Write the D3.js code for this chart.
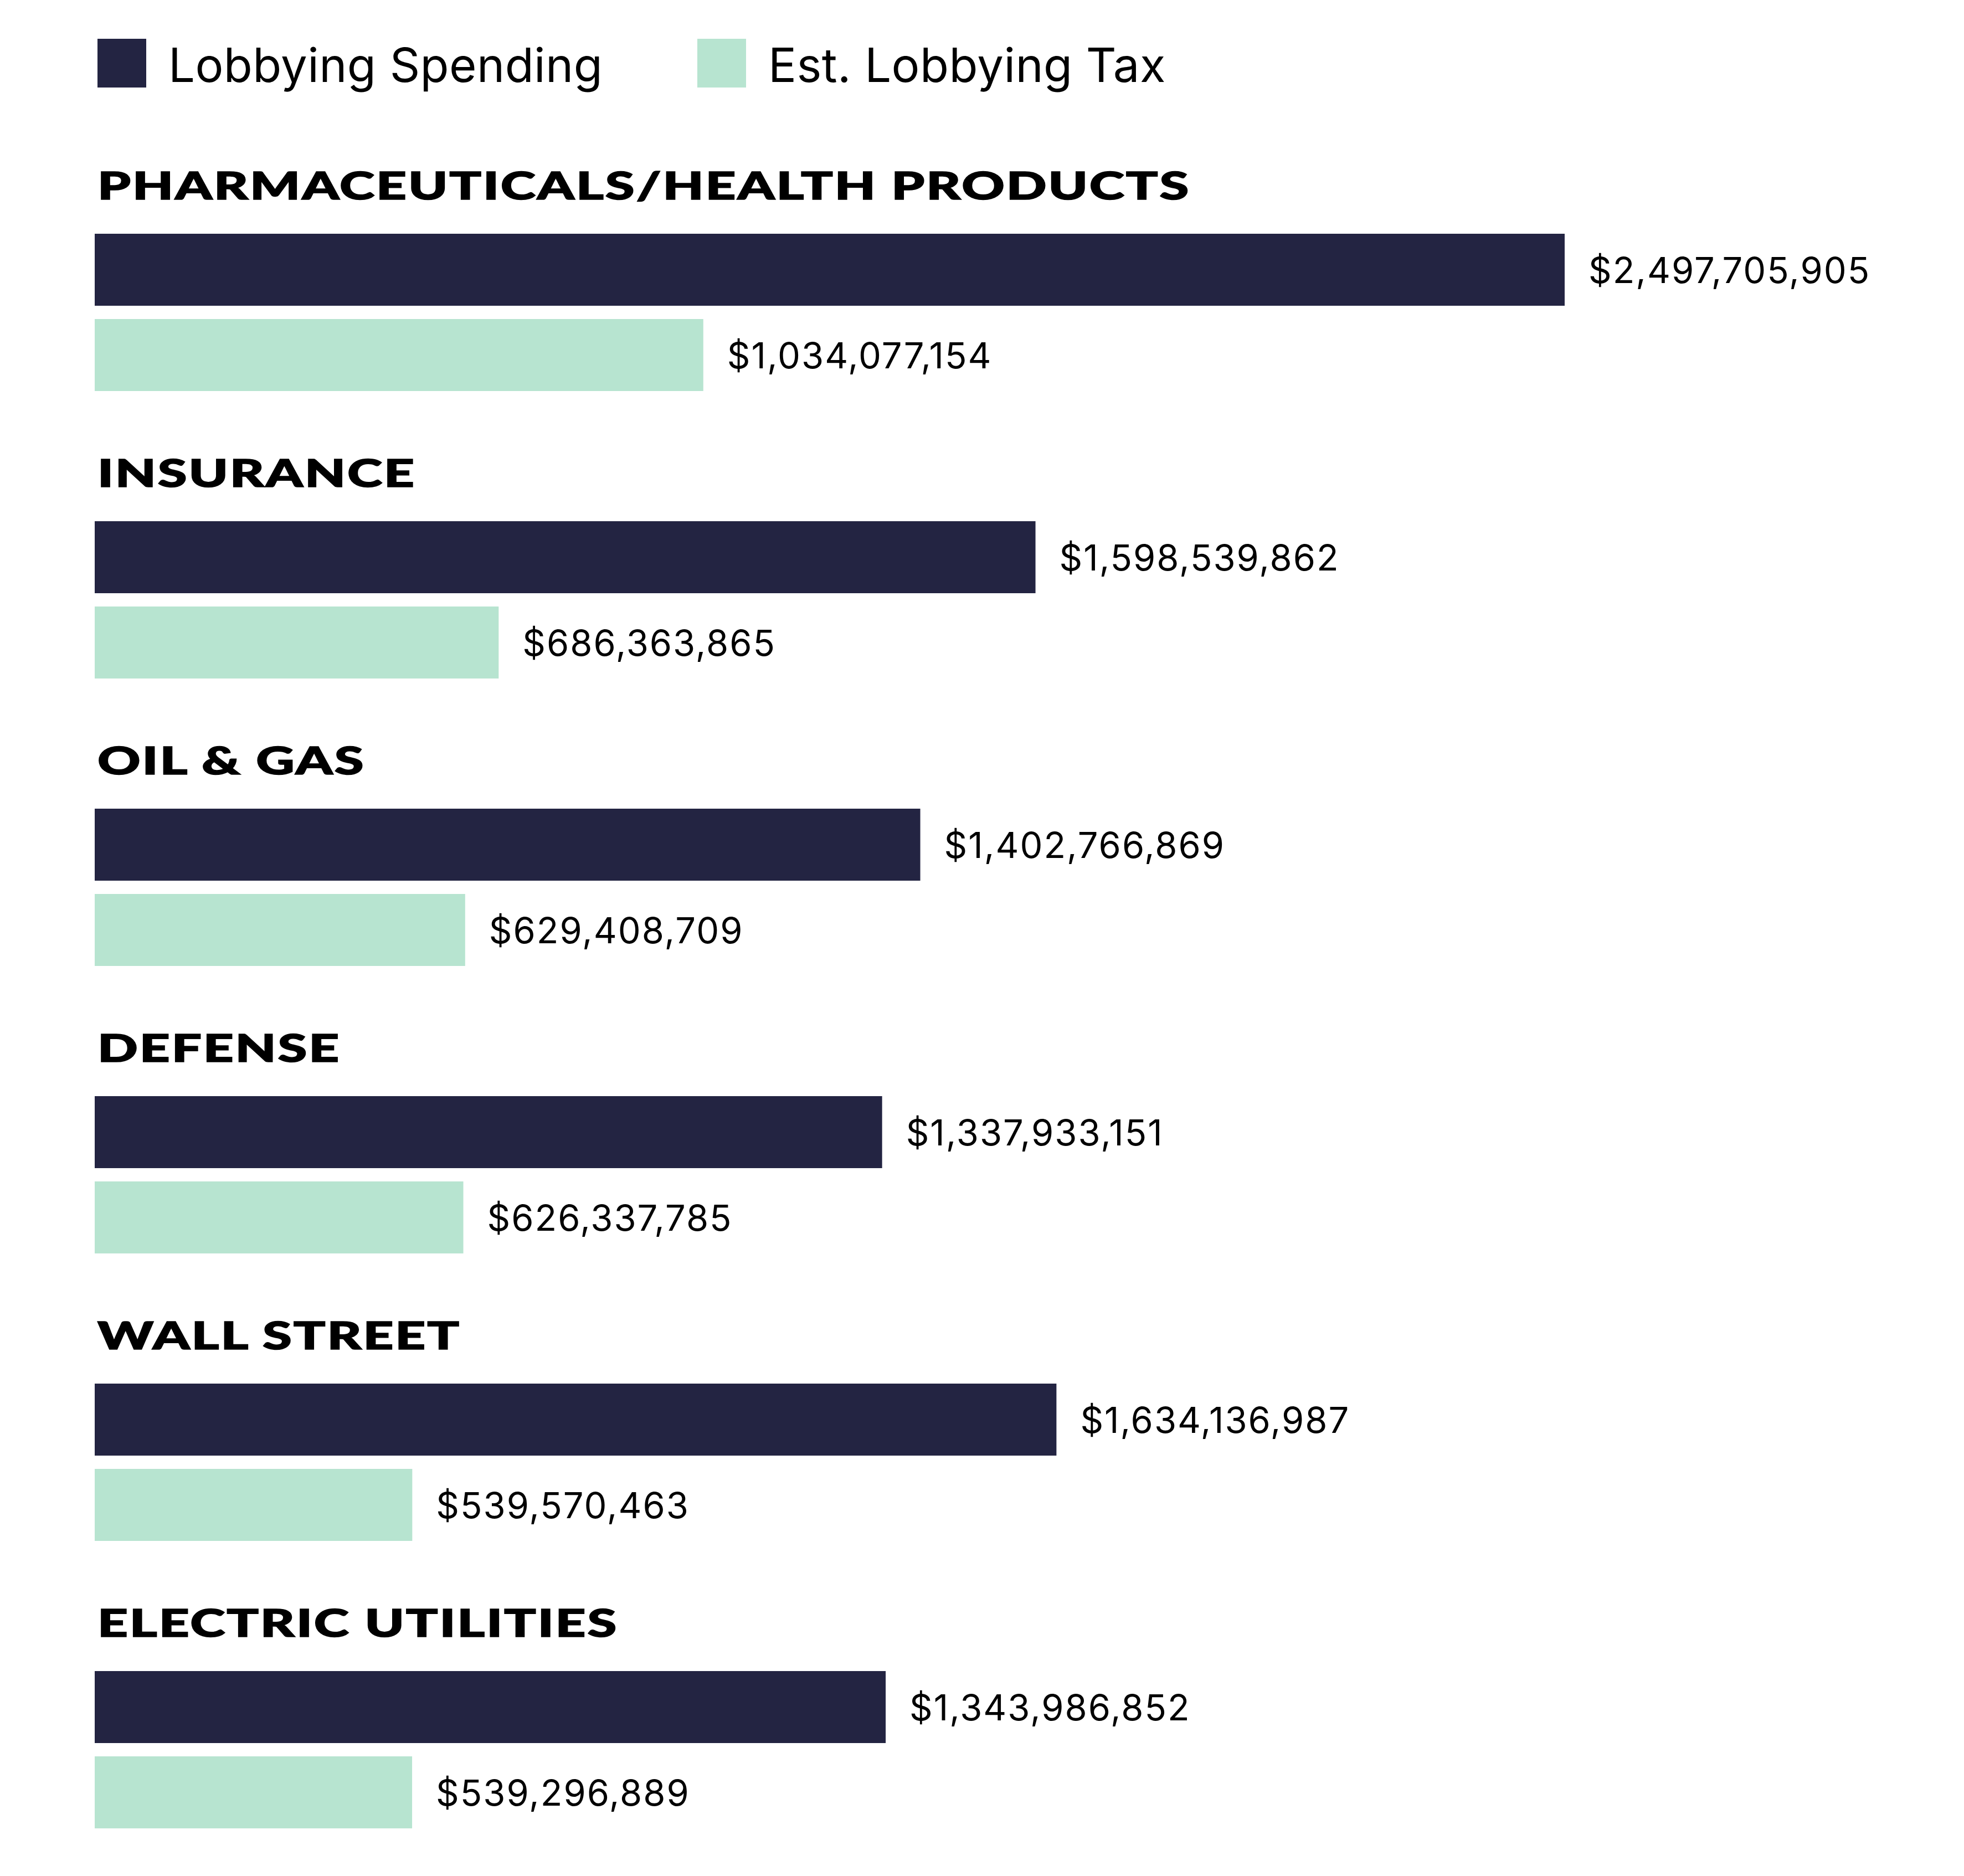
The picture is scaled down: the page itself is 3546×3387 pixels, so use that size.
<!DOCTYPE html>
<html>
<head>
<meta charset="utf-8">
<script src="https://cdn.jsdelivr.net/npm/d3@7"></script>
<style>
  body { margin: 0; background: #fff; }
  text { fill: #000; }
</style>
</head>
<body>
<script>
// dados
var categorias = ["PHARMACEUTICALS/HEALTH PRODUCTS", "INSURANCE", "OIL & GAS", "DEFENSE", "WALL STREET", "ELECTRIC UTILITIES"];
var gastos = [2497705905, 1598539862, 1402766869, 1337933151, 1634136987, 1343986852];
var impostos = [1034077154, 686363865, 629408709, 626337785, 539570463, 539296889];
var series = ["Lobbying Spending", "Est. Lobbying Tax"];
var cores = ["#232442", "#b7e4d0"];

var width = 3546;
var height = 3387;
var svgTag = d3.select("body").append("svg")
	.attr("width", width)
	.attr("height", height);

var esquerda = 171;
var xScale = d3.scaleLinear()
	.domain([0, d3.max(gastos)])
	.range([esquerda, 2825]);

// cada grupo: titulo + 2 barras
var yGrupo = d3.scaleBand()
	.domain(categorias)
	.range([422, 422 + 519 * categorias.length]);
var ySerie = d3.scaleBand()
	.domain(series)
	.range([0, 284])
	.paddingInner(24 / 154);

var fmt = d3.format("$,");
var esticar = 1.41;

// legenda
var legenda = svgTag.append("g");
var legX = [176, 1259];
series.forEach(function (s, i) {
	legenda.append("rect")
		.attr("x", legX[i])
		.attr("y", 70)
		.attr("width", 88)
		.attr("height", 88)
		.attr("fill", cores[i]);
	legenda.append("text")
		.attr("x", legX[i] + 128)
		.attr("y", 148)
		.attr("font-family", "Inter")
		.attr("font-size", 85)
		.attr("letter-spacing", 0.4)
		.text(s);
});

var linhas = categorias.map(function (c, i) {
	return {nome: c, valores: [gastos[i], impostos[i]]};
});

var grupos = svgTag.selectAll(".grupo")
	.data(linhas)
	.enter().append("g")
	.attr("class", "grupo")
	.attr("transform", d => "translate(0," + yGrupo(d.nome) + ")");

grupos.append("text")
	.attr("transform", "translate(176,-62) scale(" + esticar + ",1)")
	.attr("font-family", "Lato")
	.attr("font-weight", 900)
	.attr("font-size", 68)
	.attr("letter-spacing", 2)
	.attr("stroke", "#000")
	.attr("stroke-width", 1.6)
	.text(d => d.nome);

grupos.selectAll("rect")
	.data(d => d.valores.map((v, j) => ({serie: series[j], v: v, cor: cores[j]})))
	.enter().append("rect")
	.attr("x", esquerda)
	.attr("y", d => ySerie(d.serie))
	.attr("width", d => xScale(d.v) - esquerda)
	.attr("height", ySerie.bandwidth())
	.attr("fill", d => d.cor);

grupos.selectAll(".valor")
	.data(d => d.valores.map((v, j) => ({serie: series[j], v: v})))
	.enter().append("text")
	.attr("class", "valor")
	.attr("x", d => xScale(d.v) + 43)
	.attr("y", d => ySerie(d.serie) + ySerie.bandwidth() / 2)
	.attr("dominant-baseline", "central")
	.attr("font-family", "Inter")
	.attr("font-size", 65)
	.attr("letter-spacing", 2)
	.text(d => fmt(d.v));
</script>
</body>
</html>
